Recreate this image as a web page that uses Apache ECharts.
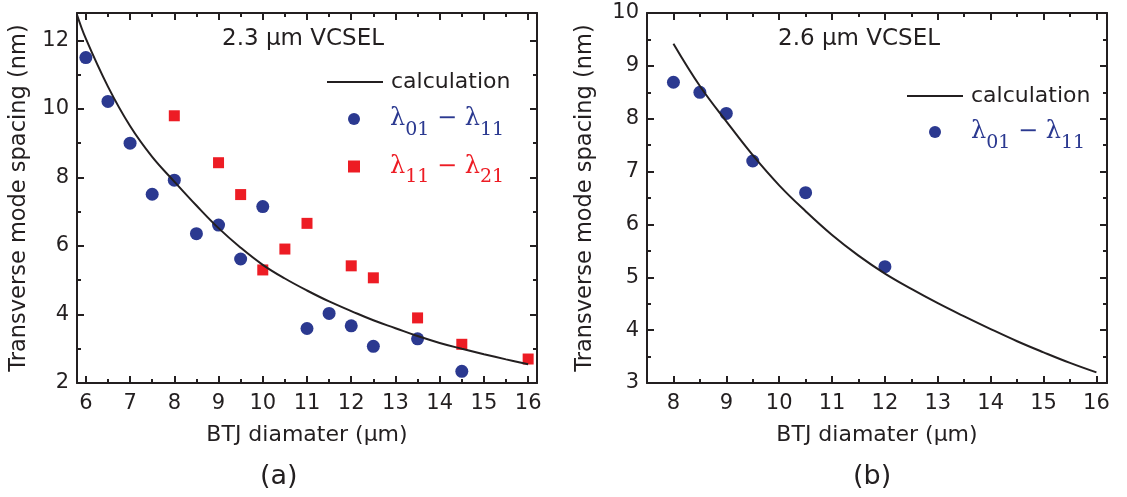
<!DOCTYPE html>
<html>
<head>
<meta charset="utf-8">
<script src="https://cdn.jsdelivr.net/npm/echarts@6/dist/echarts.min.js"></script>
<style>
  html, body { margin: 0; padding: 0; background: #ffffff; }
  #chart { width: 1127px; height: 497px; }
</style>
</head>
<body>
<div id="chart"></div>
<script>
// ---- Panel (a): 2.3 µm VCSEL ----
const diamA01 = [6, 6.5, 7, 7.5, 8, 8.5, 9, 9.5, 10, 11, 11.5, 12, 12.5, 13.5, 14.5];
const spacingA01 = [11.5, 10.22, 9.0, 7.51, 7.92, 6.36, 6.61, 5.62, 7.15, 3.59, 4.03, 3.67, 3.07, 3.29, 2.34];
const diamA12 = [8, 9, 9.5, 10, 10.5, 11, 12, 12.5, 13.5, 14.5, 16];
const spacingA12 = [9.8, 8.43, 7.5, 5.3, 5.91, 6.66, 5.42, 5.07, 3.9, 3.13, 2.7];
const calcDiamA = [5.8, 6, 6.5, 7, 7.5, 8, 8.5, 9, 9.5, 10, 10.5, 11, 11.5, 12, 12.5, 13, 13.5, 14, 14.5, 15, 15.5, 16];
const calcSpacingA = [12.75, 12.05, 10.65, 9.5, 8.6, 7.88, 7.18, 6.52, 5.95, 5.45, 5.05, 4.7, 4.38, 4.1, 3.83, 3.6, 3.37, 3.17, 3.0, 2.84, 2.69, 2.55];

// ---- Panel (b): 2.6 µm VCSEL ----
const diamB01 = [8, 8.5, 9, 9.5, 10.5, 12];
const spacingB01 = [8.69, 8.5, 8.1, 7.2, 6.6, 5.2];
const calcDiamB = [8, 8.5, 9, 9.5, 10, 10.5, 11, 11.5, 12, 12.5, 13, 13.5, 14, 14.5, 15, 15.5, 16];
const calcSpacingB = [9.42, 8.62, 7.95, 7.31, 6.74, 6.25, 5.8, 5.41, 5.07, 4.78, 4.51, 4.26, 4.02, 3.79, 3.58, 3.38, 3.2];

// ---- Tick positions ----
const xMajorA = [6, 7, 8, 9, 10, 11, 12, 13, 14, 15, 16];
const xMinorA = [6.5, 7.5, 8.5, 9.5, 10.5, 11.5, 12.5, 13.5, 14.5, 15.5];
const yMajorA = [2, 4, 6, 8, 10, 12];
const yMinorA = [3, 5, 7, 9, 11];
const xMajorB = [8, 9, 10, 11, 12, 13, 14, 15, 16];
const xMinorB = [8.5, 9.5, 10.5, 11.5, 12.5, 13.5, 14.5, 15.5];
const yMajorB = [3, 4, 5, 6, 7, 8, 9, 10];
const yMinorB = [3.5, 4.5, 5.5, 6.5, 7.5, 8.5, 9.5];

// ---- Text ----
const SERIES_CALC = 'calculation';
const SERIES_01 = 'λ01 − λ11';
const SERIES_12 = 'λ11 − λ21';
const X_NAME = 'BTJ diamater (µm)';
const Y_NAME = 'Transverse mode spacing (nm)';

const INK = '#231f20';
const BLUE = '#2b3990';
const RED = '#ed1c24';
const SANS = 'DejaVu Sans';
const SERIF = 'DejaVu Serif';

const zip = (xs, ys) => xs.map((x, i) => [x, ys[i]]);

// Four x axes per panel: bottom/top with major ticks, bottom/top with minor ticks
function xAxesFor(grid, min, max, majors, minors) {
  const base = { type: 'value', gridIndex: grid, min: min, max: max, splitLine: { show: false } };
  const line = { show: true, onZero: false, lineStyle: { color: INK, width: 2 } };
  const tick = (vals, len) => ({ show: true, inside: true, length: len, customValues: vals, lineStyle: { color: INK, width: 2 } });
  return [
    Object.assign({}, base, {
      position: 'bottom', axisLine: line, axisTick: tick(majors, 7),
      axisLabel: { customValues: majors, color: INK, fontFamily: SANS, fontSize: 21, margin: 10 },
      name: X_NAME, nameLocation: 'middle', nameGap: 41,
      nameTextStyle: { color: INK, fontFamily: SANS, fontSize: 22 }
    }),
    Object.assign({}, base, { position: 'top', axisLine: line, axisTick: tick(majors, 7), axisLabel: { show: false } }),
    Object.assign({}, base, { position: 'bottom', axisLine: { show: false }, axisTick: tick(minors, 4), axisLabel: { show: false } }),
    Object.assign({}, base, { position: 'top', axisLine: { show: false }, axisTick: tick(minors, 4), axisLabel: { show: false } })
  ];
}

// Four y axes per panel: left/right with major ticks, left/right with minor ticks
function yAxesFor(grid, min, max, majors, minors, nameGap) {
  const base = { type: 'value', gridIndex: grid, min: min, max: max, splitLine: { show: false } };
  const line = { show: true, onZero: false, lineStyle: { color: INK, width: 2 } };
  const tick = (vals, len) => ({ show: true, inside: true, length: len, customValues: vals, lineStyle: { color: INK, width: 2 } });
  return [
    Object.assign({}, base, {
      position: 'left', axisLine: line, axisTick: tick(majors, 7),
      axisLabel: { customValues: majors, color: INK, fontFamily: SANS, fontSize: 21, margin: 8 },
      name: Y_NAME, nameLocation: 'middle', nameGap: nameGap,
      nameTextStyle: { color: INK, fontFamily: SANS, fontSize: 22.5 }
    }),
    Object.assign({}, base, { position: 'right', axisLine: line, axisTick: tick(majors, 7), axisLabel: { show: false } }),
    Object.assign({}, base, { position: 'left', axisLine: { show: false }, axisTick: tick(minors, 4), axisLabel: { show: false } }),
    Object.assign({}, base, { position: 'right', axisLine: { show: false }, axisTick: tick(minors, 4), axisLabel: { show: false } })
  ];
}

const legendRich = {
  mb: { fontFamily: SERIF, fontSize: 24, color: BLUE },
  sb: { fontFamily: SERIF, fontSize: 19, color: BLUE, padding: [22, 0, 0, 0] },
  mr: { fontFamily: SERIF, fontSize: 24, color: RED },
  sr: { fontFamily: SERIF, fontSize: 19, color: RED, padding: [22, 0, 0, 0] }
};
function legendLabel(name) {
  if (name === SERIES_01) return '{mb|λ}{sb|01}{mb| − λ}{sb|11}';
  if (name === SERIES_12) return '{mr|λ}{sr|11}{mr| − λ}{sr|21}';
  return name;
}

function calcLegend(left, top) {
  return {
    left: left, top: top, orient: 'vertical', selectedMode: false, padding: 0,
    icon: 'rect', itemWidth: 56, itemHeight: 2,
    data: [SERIES_CALC],
    textStyle: { color: INK, fontFamily: SANS, fontSize: 22, padding: [0, 0, 0, 3] }
  };
}
function markerLegend(left, top, names) {
  return {
    left: left, top: top, orient: 'vertical', selectedMode: false, padding: 0,
    itemWidth: 12, itemHeight: 12, itemGap: 15,
    data: names.map(n => ({ name: n, icon: n === SERIES_01 ? 'circle' : 'rect' })),
    formatter: legendLabel,
    textStyle: { padding: [0, 0, 0, 25], rich: legendRich }
  };
}

const option = {
  backgroundColor: '#ffffff',
  animation: false,
  grid: [
    { left: 77, top: 13, width: 460, height: 370, outerBoundsMode: 'none' },
    { left: 647, top: 13, width: 460, height: 370, outerBoundsMode: 'none' }
  ],
  xAxis: [].concat(
    xAxesFor(0, 5.8, 16.2, xMajorA, xMinorA),
    xAxesFor(1, 7.5, 16.2, xMajorB, xMinorB)
  ),
  yAxis: [].concat(
    yAxesFor(0, 2, 12.8, yMajorA, yMinorA, 46),
    yAxesFor(1, 3, 10, yMajorB, yMinorB, 50)
  ),
  title: [
    { text: '2.3 µm VCSEL', left: 222, top: 28, padding: 0, textStyle: { color: INK, fontFamily: SANS, fontSize: 23, fontWeight: 'normal' } },
    { text: '2.6 µm VCSEL', left: 778, top: 28, padding: 0, textStyle: { color: INK, fontFamily: SANS, fontSize: 23, fontWeight: 'normal' } },
    { text: '(a)', left: 260, top: 463, padding: 0, textStyle: { color: INK, fontFamily: SANS, fontSize: 27, fontWeight: 'normal' } },
    { text: '(b)', left: 853, top: 463, padding: 0, textStyle: { color: INK, fontFamily: SANS, fontSize: 27, fontWeight: 'normal' } }
  ],
  legend: [
    calcLegend(327, 71),
    markerLegend(348, 107, [SERIES_01, SERIES_12]),
    calcLegend(907, 85),
    markerLegend(929, 120, [SERIES_01])
  ],
  series: [
    {
      name: SERIES_CALC, type: 'line', xAxisIndex: 0, yAxisIndex: 0,
      data: zip(calcDiamA, calcSpacingA), smooth: 0.4, showSymbol: false, symbol: 'none',
      color: INK, lineStyle: { color: INK, width: 2 }, z: 3
    },
    {
      name: SERIES_01, type: 'scatter', xAxisIndex: 0, yAxisIndex: 0,
      data: zip(diamA01, spacingA01), symbol: 'circle', symbolSize: 13,
      itemStyle: { color: BLUE, opacity: 1 }, z: 2
    },
    {
      name: SERIES_12, type: 'scatter', xAxisIndex: 0, yAxisIndex: 0,
      data: zip(diamA12, spacingA12), symbol: 'rect', symbolSize: 11,
      itemStyle: { color: RED, opacity: 1 }, z: 2
    },
    {
      name: SERIES_CALC, type: 'line', xAxisIndex: 4, yAxisIndex: 4,
      data: zip(calcDiamB, calcSpacingB), smooth: 0.4, showSymbol: false, symbol: 'none',
      color: INK, lineStyle: { color: INK, width: 2 }, z: 3
    },
    {
      name: SERIES_01, type: 'scatter', xAxisIndex: 4, yAxisIndex: 4,
      data: zip(diamB01, spacingB01), symbol: 'circle', symbolSize: 13,
      itemStyle: { color: BLUE, opacity: 1 }, z: 2
    }
  ]
};

const chart = echarts.init(document.getElementById('chart'), null, { renderer: 'canvas' });
chart.setOption(option);
</script>
</body>
</html>
